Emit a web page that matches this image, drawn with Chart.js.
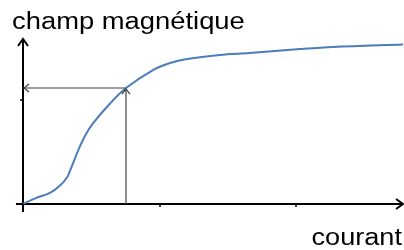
<!DOCTYPE html>
<html><head><meta charset="utf-8">
<script src="https://cdn.jsdelivr.net/npm/chart.js@4/dist/chart.umd.min.js"></script>
<style>html,body{margin:0;padding:0;background:#fff}#wrap{width:404px;height:250px;position:relative}</style>
</head><body><div id="wrap"><canvas id="c"></canvas></div>
<script>
// Data (arbitrary units)
const currentValues = [0, 3.4, 7.1, 9.9, 11.6, 12.4, 14.5, 16.3, 18.4, 22.9, 27.1, 34.2, 38.7, 43.2, 51.8, 59.7, 72.9, 81.6, 100];
const fieldValues   = [0, 3.6, 6.7, 11.5, 16.2, 20.3, 32.4, 41.2, 48.8, 60.9, 70.3, 81.2, 85.5, 87.9, 90.3, 91.5, 93.9, 95.2, 96.7];
const markCurrent = 27.1;
const markField = 70.3;
const xTickValues = [36.1, 71.8];
const yTickValues = [63.0];
const yAxisTitle = 'champ magnétique';
const xAxisTitle = 'courant';

const curve = currentValues.map((x, i) => ({x: x, y: fieldValues[i]}));

const drawPlugin = {
  id: 'sketchAxes',
  beforeDatasetsDraw(chart) {
    const ctx = chart.ctx, xs = chart.scales.x, ys = chart.scales.y;
    const x0 = xs.getPixelForValue(0), y0 = ys.getPixelForValue(0);
    const xMax = xs.getPixelForValue(xs.max), yMax = ys.getPixelForValue(ys.max);
    ctx.save();
    ctx.strokeStyle = '#000';
    ctx.lineWidth = 2;
    ctx.lineCap = 'butt';
    ctx.beginPath(); ctx.moveTo(x0, y0 + 8); ctx.lineTo(x0, yMax + 1); ctx.stroke();
    ctx.beginPath(); ctx.moveTo(x0 - 7, y0); ctx.lineTo(xMax - 1, y0); ctx.stroke();
    ctx.lineJoin = 'miter';
    ctx.beginPath(); ctx.moveTo(x0 - 5, yMax + 7); ctx.lineTo(x0, yMax); ctx.lineTo(x0 + 5, yMax + 7); ctx.stroke();
    ctx.beginPath(); ctx.moveTo(xMax - 7, y0 - 5); ctx.lineTo(xMax, y0); ctx.lineTo(xMax - 7, y0 + 5); ctx.stroke();
    ctx.lineWidth = 1.5;
    xTickValues.forEach(v => { const p = Math.round(xs.getPixelForValue(v)); ctx.beginPath(); ctx.moveTo(p, y0); ctx.lineTo(p, y0 + 3); ctx.stroke(); });
    yTickValues.forEach(v => { const p = Math.round(ys.getPixelForValue(v)); ctx.beginPath(); ctx.moveTo(x0, p); ctx.lineTo(x0 - 3, p); ctx.stroke(); });
    ctx.restore();
  },
  afterDatasetsDraw(chart) {
    const ctx = chart.ctx, xs = chart.scales.x, ys = chart.scales.y;
    const mx = xs.getPixelForValue(markCurrent), my = ys.getPixelForValue(markField);
    const x0 = xs.getPixelForValue(0);
    ctx.save();
    ctx.strokeStyle = '#404040';
    ctx.lineWidth = 1.2;
    ctx.beginPath(); ctx.moveTo(x0 + 6, my - 4); ctx.lineTo(x0 + 1, my); ctx.lineTo(x0 + 6, my + 4); ctx.stroke();
    ctx.beginPath(); ctx.moveTo(mx - 4, my + 6); ctx.lineTo(mx, my + 1); ctx.lineTo(mx + 4, my + 6); ctx.stroke();
    ctx.fillStyle = '#000';
    ctx.font = '23px "Liberation Sans", Arial, sans-serif';
    ctx.textBaseline = 'alphabetic';
    ctx.save(); ctx.translate(12, 29); ctx.scale(1.19, 1); ctx.textAlign = 'left'; ctx.fillText(yAxisTitle, 0, 0); ctx.restore();
    ctx.save(); ctx.translate(402, 245); ctx.scale(1.18, 1); ctx.textAlign = 'right'; ctx.fillText(xAxisTitle, 0, 0); ctx.restore();
    ctx.restore();
  }
};

new Chart(document.getElementById('c'), {
  type: 'scatter',
  data: {
    datasets: [
      { data: curve, showLine: true, borderColor: '#4a7ebb', borderWidth: 2, pointRadius: 0, tension: 0.35, fill: false },
      { data: [{x: markCurrent, y: 0}, {x: markCurrent, y: markField}], showLine: true, borderColor: '#404040', borderWidth: 1.2, pointRadius: 0 },
      { data: [{x: markCurrent, y: markField}, {x: 0, y: markField}], showLine: true, borderColor: '#404040', borderWidth: 1.2, pointRadius: 0 }
    ]
  },
  options: {
    responsive: true,
    maintainAspectRatio: false,
    animation: false,
    layout: { padding: { left: 23, right: 1, top: 39, bottom: 46 } },
    plugins: { legend: { display: false }, tooltip: { enabled: false } },
    scales: {
      x: { type: 'linear', min: 0, max: 100, display: false },
      y: { type: 'linear', min: 0, max: 100, display: false }
    }
  },
  plugins: [drawPlugin]
});
</script></body></html>
